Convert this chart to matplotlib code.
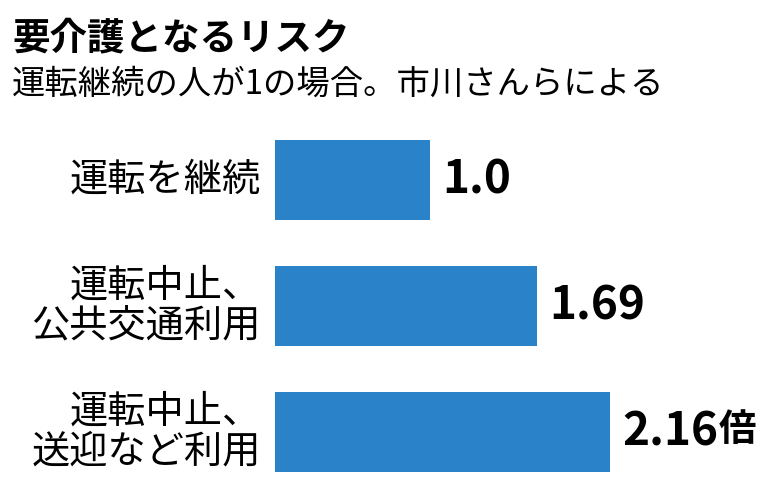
import matplotlib
matplotlib.use("Agg")
import matplotlib.pyplot as plt

categories = ["運転を継続", "運転中止、\n公共交通利用", "運転中止、\n送迎など利用"]
values = [1.0, 1.69, 2.16]
value_labels = ["1.0", "1.69", "2.16"]
unit = "倍"

plt.rcParams["font.family"] = "Noto Sans CJK JP"
W, H = 780, 504
fig = plt.figure(figsize=(W/100, H/100), dpi=100)
ax = fig.add_axes([275/W, 1-495/H, (W-275)/W, (495-117)/H])
ax.barh(range(len(values)), values, height=0.635, color="#2a82c8")
ax.set_xlim(0, (W-275)/155)
ax.set_ylim(2.5, -0.5)
ax.axis("off")
for i, (v, lab) in enumerate(zip(values, value_labels)):
    t = ax.text(v + 0.08, i, lab, fontsize=33, fontweight="bold", va="center", ha="left")
    if i == len(values)-1:
        fig.canvas.draw()
        bb = t.get_window_extent()
        fig.text((bb.x1+1)/W, bb.y0/H + 0.012, unit, fontsize=27, fontweight="bold", va="bottom", ha="left")
    ax.text(-0.09, i, categories[i], fontsize=27.5, va="center", ha="right", linespacing=1.05)
fig.text(12/W, 1-38/H, "要介護となるリスク", fontsize=27, fontweight="bold", va="center")
fig.text(12/W, 1-84/H, "運転継続の人が1の場合。市川さんらによる", fontsize=24, va="center")
fig.savefig("out.png", dpi=100)
